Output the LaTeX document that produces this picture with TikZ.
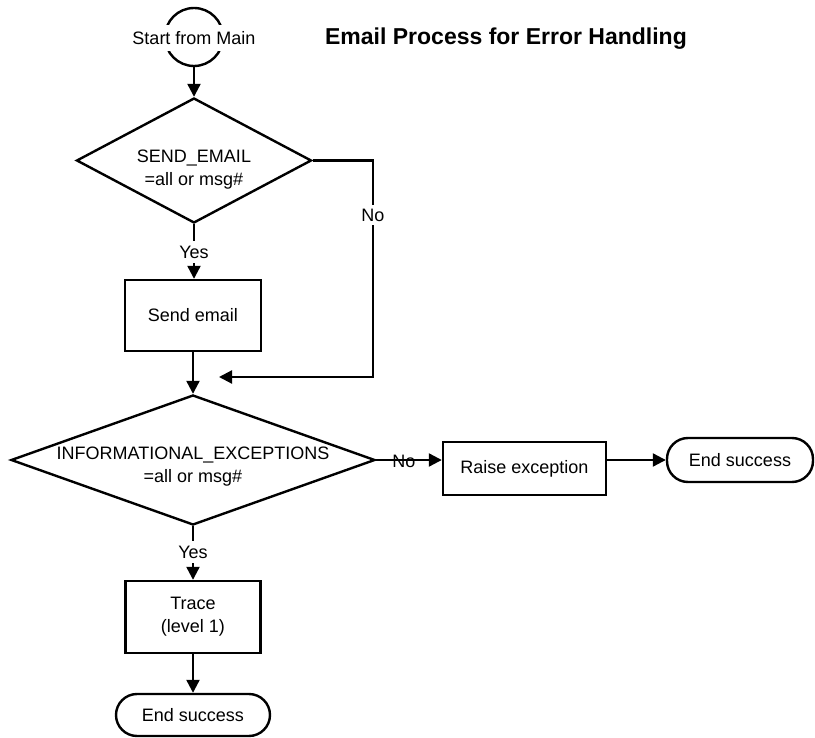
\documentclass[tikz,border=0pt]{standalone}
\usepackage{fontspec}
\setmainfont{Liberation Sans}
\usetikzlibrary{shapes.geometric,arrows.meta}
\begin{document}
\begin{tikzpicture}[x=0.5pt,y=-0.5pt,
  line width=1.1pt,
  every node/.style={font=\fontsize{9}{11.5}\selectfont, inner sep=0pt},
  boxnode/.style={draw, rectangle, line width=1.2pt},
  dia/.style={draw, diamond, line width=1.2pt},
  term/.style={draw, rectangle, rounded corners=10.5pt, line width=1.2pt},
  lbl/.style={fill=white, inner xsep=1pt, inner ysep=2pt},
  arr/.style={-{Triangle[length=6.5pt,width=6.5pt]}}]
\useasboundingbox (0,0) rectangle (815,738);
% nodes
\node[circle, draw, minimum size=29pt, line width=1.2pt] (st) at (194,37) {};
\node[fill=white, inner xsep=1pt, inner ysep=3pt] (stt) at (194,38) {Start from Main};
\node[font=\fontsize{11.5}{14}\selectfont\bfseries] (title) at (506,39) {Email Process for Error Handling};
\node[dia, minimum width=117.5pt, minimum height=62.5pt] (d1) at (194,160.5) {};
\node[align=center] (d1t) at (194,169.5) {SEND\_EMAIL\\=all or msg\#};
\node[lbl] (yes1) at (194,252) {Yes};
\node[boxnode, minimum width=68pt, minimum height=35.5pt] (se) at (193,315.5) {Send email};
\node[dia, minimum width=182pt, minimum height=65pt] (d2) at (193,460) {};
\node[align=center] (d2t) at (193,467) {INFORMATIONAL\_EXCEPTIONS\\=all or msg\#};
\node[lbl] (yes2) at (193,552) {Yes};
\node[boxnode, minimum width=67.5pt, minimum height=36pt, align=center] (tr) at (193,617) {Trace\\(level 1)};
\node[term, minimum width=77pt, minimum height=21pt] (end1) at (193,715) {End success};
\node[boxnode, minimum width=81.5pt, minimum height=26.5pt] (rx) at (524.5,468.5) {Raise exception};
\node[term, minimum width=73pt, minimum height=22pt] (end2) at (740,460) {End success};
\coordinate (n2) at (373,377);
\coordinate (n3) at (219,377);
% connectors
\draw[arr] (st) -- (d1);
\draw (d1.south) -- (yes1);
\draw[arr] (yes1) -- (yes1 |- se.north);
\draw[arr] (se) -- (d2);
\draw[arr] (d1.east) -| (n2) -- (n3);
\node[lbl] (no1) at (373,215) {No};
\draw[arr] (d2.east) -- (d2.east -| rx.west);
\node (no2) at (404,461) {No};
\draw[arr] (d2.east -| rx.east) -- (d2.east -| end2.west);
\draw (d2) -- (yes2);
\draw[arr] (yes2) -- (tr);
\draw[arr] (tr) -- (end1);
\end{tikzpicture}
\end{document}
